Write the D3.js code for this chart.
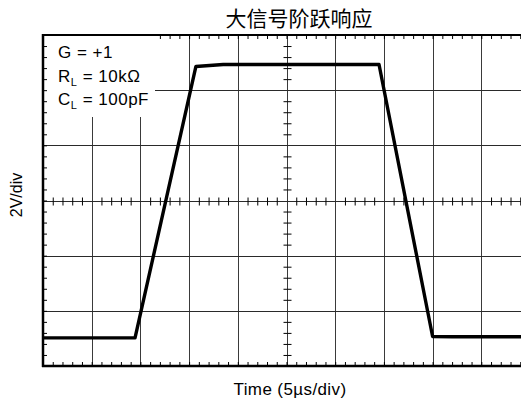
<!DOCTYPE html>
<html>
<head>
<meta charset="utf-8">
<script src="https://cdn.jsdelivr.net/npm/d3@7"></script>
<style>
  html, body { margin: 0; padding: 0; background: #fff; }
  svg { display: block; }
</style>
</head>
<body>
<div id="chart"></div>
<script>
// ---- data ----
const chartTitle = "大信号阶跃响应";
const xLabel = "Time (5\u00b5s/div)";
const yLabel = "2V/div";
const legendLines = [
  { main: "G = +1", sub: "", rest: "" },
  { main: "R", sub: "L", rest: " = 10k\u03a9" },
  { main: "C", sub: "L", rest: " = 100pF" }
];
// time in microseconds (5 µs/div, 10 divisions), volts (2 V/div, 6 divisions, 0 at center)
const timeUs = [0, 9.45, 15.7, 18.5, 34.5, 40.0, 42.0, 50];
const voltsV = [-4.98, -4.98, 4.86, 4.93, 4.93, -4.93, -4.94, -4.94];
const xDivs = d3.range(0, 50.001, 5);
const yDivs = d3.range(-6, 6.001, 2);
const xMinor = d3.range(0, 50.001, 1);
const yMinor = d3.range(-6, 6.001, 0.4);

// ---- layout ----
const W = 521, H = 398;
const L = 43, T = 35, R = 530, B = 366;

const svg = d3.select("#chart").append("svg")
  .attr("width", W).attr("height", H)
  .style("font-family", "'Liberation Sans', Arial, Helvetica, sans-serif");

const x = d3.scaleLinear().domain([0, 50]).range([L, R]);
const y = d3.scaleLinear().domain([-6, 6]).range([B, T]);

svg.append("defs").append("clipPath").attr("id", "plotclip")
  .append("rect").attr("x", L).attr("y", T - 1).attr("width", W - L).attr("height", B - T + 2);

const g = svg.append("g").attr("clip-path", "url(#plotclip)");

// grid
g.selectAll("line.vg").data(xDivs.slice(1, -1)).enter().append("line")
  .attr("x1", d => Math.round(x(d)) + 0.5).attr("x2", d => Math.round(x(d)) + 0.5)
  .attr("y1", T).attr("y2", B)
  .attr("stroke", "#3a3a3a").attr("stroke-width", 1);
g.selectAll("line.hg").data(yDivs.slice(1, -1)).enter().append("line")
  .attr("y1", d => Math.round(y(d)) + 0.5).attr("y2", d => Math.round(y(d)) + 0.5)
  .attr("x1", L).attr("x2", R)
  .attr("stroke", "#2a2a2a").attr("stroke-width", 1);

// border minor ticks (top / bottom)
const topAxis = d3.axisBottom(x).tickValues(xMinor).tickSize(4).tickFormat("");
g.append("g").attr("transform", `translate(0,${T})`).call(topAxis)
  .call(s => s.select(".domain").remove())
  .call(s => s.selectAll("line").attr("stroke", "#000"));
const botAxis = d3.axisTop(x).tickValues(xMinor).tickSize(4).tickFormat("");
g.append("g").attr("transform", `translate(0,${B})`).call(botAxis)
  .call(s => s.select(".domain").remove())
  .call(s => s.selectAll("line").attr("stroke", "#000"));

// center axes with crossing minor ticks
const y0 = Math.round(y(0)) + 0.5;
const x0 = Math.round(x(25)) + 0.5;
[d3.axisTop(x), d3.axisBottom(x)].forEach(ax => {
  g.append("g").attr("transform", `translate(0,${y0})`)
    .call(ax.tickValues(xMinor.filter(v => v % 5 !== 0)).tickSize(4).tickFormat(""))
    .call(s => s.select(".domain").remove())
    .call(s => s.selectAll("line").attr("stroke", "#000"));
});
[d3.axisLeft(y), d3.axisRight(y)].forEach(ax => {
  g.append("g").attr("transform", `translate(${x0},0)`)
    .call(ax.tickValues(yMinor.filter(v => Math.abs(v % 2) > 0.01 && Math.abs(Math.abs(v % 2) - 2) > 0.01)).tickSize(4).tickFormat(""))
    .call(s => s.select(".domain").remove())
    .call(s => s.selectAll("line").attr("stroke", "#000"));
});

// legend backdrop
g.append("rect").attr("x", L + 1).attr("y", T + 1)
  .attr("width", 155 - L - 1).attr("height", 117 - T - 1).attr("fill", "#fff");

// left border ticks
const leftAxis = d3.axisRight(y).tickValues(yMinor).tickSize(4).tickFormat("");
g.append("g").attr("transform", `translate(${L},0)`).call(leftAxis)
  .call(s => s.select(".domain").remove())
  .call(s => s.selectAll("line").attr("stroke", "#000"));

// trace
const line = d3.line().x((d, i) => x(timeUs[i])).y(d => y(d));
g.append("path").datum(voltsV)
  .attr("d", line)
  .attr("fill", "none").attr("stroke", "#000").attr("stroke-width", 3.4)
  .attr("stroke-linejoin", "round");

// borders
svg.append("line").attr("x1", L - 1).attr("x2", W).attr("y1", T).attr("y2", T)
  .attr("stroke", "#000").attr("stroke-width", 2);
svg.append("line").attr("x1", L - 1).attr("x2", W).attr("y1", B).attr("y2", B)
  .attr("stroke", "#000").attr("stroke-width", 2.5);
svg.append("line").attr("x1", L).attr("x2", L).attr("y1", T - 1).attr("y2", B + 1)
  .attr("stroke", "#000").attr("stroke-width", 2.5);

// legend text
const lg = svg.append("g").attr("font-size", 17).attr("fill", "#000").attr("letter-spacing", 0.5);
legendLines.forEach((d, i) => {
  const t = lg.append("text").attr("x", 58).attr("y", 58 + i * 23.5);
  t.append("tspan").text(d.main);
  if (d.sub) {
    t.append("tspan").attr("font-size", 11).attr("dy", 4).text(d.sub);
    t.append("tspan").attr("dy", -4).text(d.rest);
  }
});

// title
svg.append("text").attr("x", 299).attr("y", 26).attr("text-anchor", "middle")
  .attr("font-family", "'Noto Sans CJK SC', sans-serif").attr("font-size", 21)
  .attr("fill", "#000").text(chartTitle);

// axis labels
svg.append("text").attr("x", 290).attr("y", 395).attr("text-anchor", "middle")
  .attr("font-size", 17).attr("letter-spacing", 0.4).attr("fill", "#000").text(xLabel);
svg.append("text").attr("transform", "translate(22,195) rotate(-90)")
  .attr("text-anchor", "middle").attr("font-size", 16).attr("fill", "#000").text(yLabel);
</script>
</body>
</html>
